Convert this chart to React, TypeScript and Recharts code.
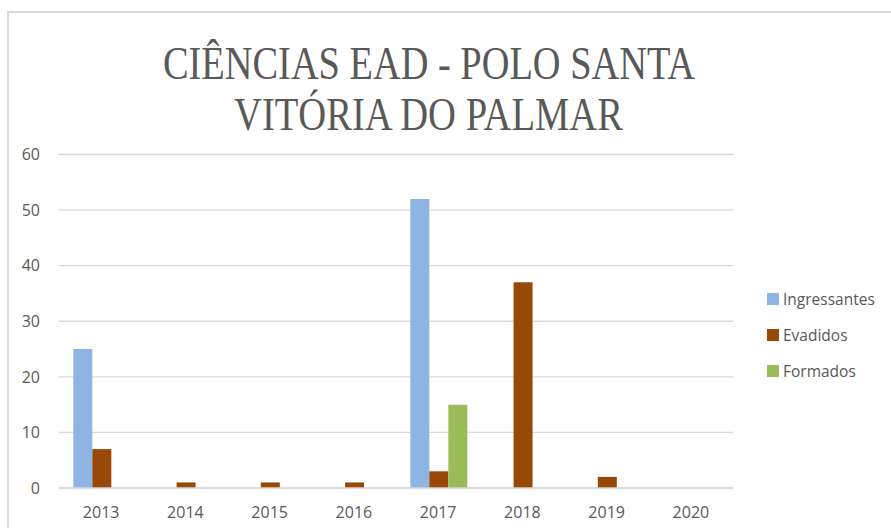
import React from "react";
import { BarChart, Bar, XAxis, YAxis, CartesianGrid } from "recharts";

const years = ["2013", "2014", "2015", "2016", "2017", "2018", "2019", "2020"];
const ingressantes = [25, 0, 0, 0, 52, 0, 0, 0];
const evadidos = [7, 1, 1, 1, 3, 37, 2, 0];
const formados = [0, 0, 0, 0, 15, 0, 0, 0];
const yTicks = [0, 10, 20, 30, 40, 50, 60];
const titleLines = ["CIÊNCIAS EAD - POLO SANTA", "VITÓRIA DO PALMAR"];
const seriesNames = ["Ingressantes", "Evadidos", "Formados"];
const seriesColors = ["#8EB4E3", "#984807", "#9BBB59"];

const data = years.map((y, i) => ({
  year: y,
  Ingressantes: ingressantes[i],
  Evadidos: evadidos[i],
  Formados: formados[i],
}));

const FONT = "'Open Sans', 'Liberation Sans', sans-serif";

export default function App() {
  return (
    <div style={{ position: "absolute", left: 0, top: 0, width: 891, height: 528, overflow: "hidden", background: "#fff" }}>
      <div style={{ position: "absolute", left: 7, top: 11, width: 950, height: 650, border: "2px solid #d9d9d9" }} />
      <svg width={891} height={528} style={{ position: "absolute", left: 0, top: 0 }}>
        <text x={429} y={78.5} textAnchor="middle" fontFamily="'Liberation Serif', serif" fontSize={45.5} fill="#595959" textLength={532} lengthAdjust="spacingAndGlyphs">
          {titleLines[0]}
        </text>
        <text x={428.5} y={129.5} textAnchor="middle" fontFamily="'Liberation Serif', serif" fontSize={45.5} fill="#595959" textLength={389} lengthAdjust="spacingAndGlyphs">
          {titleLines[1]}
        </text>
      </svg>
      <div style={{ position: "absolute", left: 0, top: 0 }}>
        <BarChart
          width={891}
          height={528}
          data={data}
          margin={{ top: 154.5, right: 158, bottom: 0, left: 0 }}
          barCategoryGap="17%"
          barGap={0}
        >
          <CartesianGrid vertical={false} stroke="#d9d9d9" strokeWidth={1.3} />
          <XAxis
            dataKey="year"
            height={40}
            axisLine={{ stroke: "#d9d9d9", strokeWidth: 1.3 }}
            tickLine={false}
            tickSize={0}
            tickMargin={19}
            tick={{ fill: "#595959", fontSize: 16, fontFamily: FONT }}
            interval={0}
          />
          <YAxis
            width={59}
            domain={[0, 60]}
            ticks={yTicks}
            axisLine={false}
            tickLine={false}
            tickSize={0}
            tickMargin={19}
            tick={{ fill: "#595959", fontSize: 16, fontFamily: FONT }}
            interval={0}
          />
          {seriesNames.map((name, i) => (
            <Bar key={name} dataKey={name} fill={seriesColors[i]} isAnimationActive={false} />
          ))}
        </BarChart>
      </div>
      <div style={{ position: "absolute", left: 767, top: 281, fontFamily: FONT, fontSize: 15.5, color: "#595959" }}>
        {seriesNames.map((name, i) => (
          <div key={name} style={{ display: "flex", alignItems: "center", height: 36 }}>
            <div style={{ width: 12, height: 12, background: seriesColors[i], marginRight: 4 }} />
            <span>{name}</span>
          </div>
        ))}
      </div>
    </div>
  );
}
